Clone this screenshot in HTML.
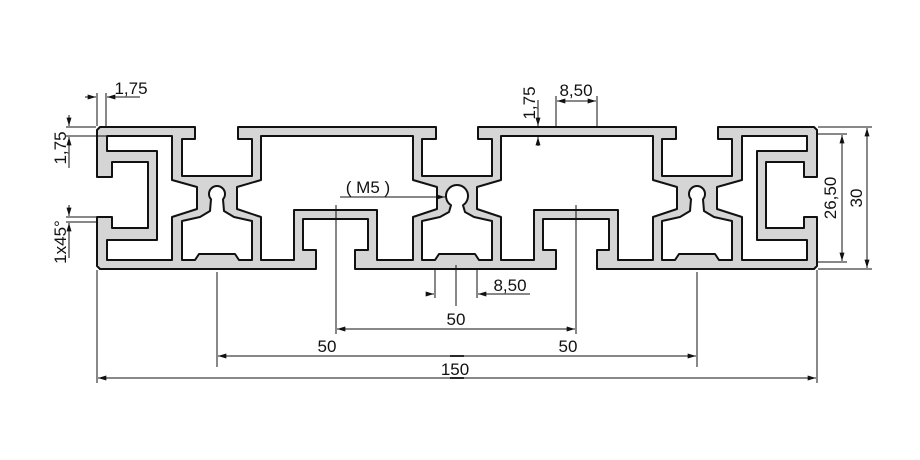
<!DOCTYPE html>
<html><head><meta charset="utf-8"><style>
html,body{margin:0;padding:0;background:#fff;}
svg{display:block;}
text{font-family:"Liberation Sans Narrow","Liberation Sans",sans-serif;font-size:17px;fill:#111;}
</style></head><body>
<svg width="920" height="460" viewBox="0 0 920 460" xmlns="http://www.w3.org/2000/svg">
<defs>
<marker id="a" viewBox="0 0 10 6" refX="10" refY="3" markerWidth="9" markerHeight="5" orient="auto-start-reverse" markerUnits="userSpaceOnUse">
<path d="M0,0 L10,3 L0,6 z" fill="#111"/></marker>
</defs>
<path fill="#d5d5d5" stroke="#111" stroke-width="2" stroke-linejoin="round" fill-rule="evenodd" d="
M100,127 L195,127 L195,139 L182,139 L182,176 L252,176 L252,139 L238,139 L238,127
L436,127 L436,139 L422,139 L422,176 L492,176 L492,139 L478,139 L478,127
L676,127 L676,139 L662,139 L662,176 L732,176 L732,139 L718,139 L718,127
L814,127 L817,130 L817,177 L804,177 L804,162 L766,162 L766,228 L804,228 L804,217 L817,217 L817,266 L814,269
L597,269 L597,250 L609,250 L609,219 L543,219 L543,250 L556,250 L556,269
L355,269 L355,250 L368,250 L368,219 L303,219 L303,250 L316,250 L316,269
L100,269 L97,266 L97,217 L112,217 L112,228 L148,228 L148,162 L112,162 L112,177 L97,177 L97,130 Z
M107,136 L172,136 L172,180 L197,187 L197,209 L172,217 L172,260 L107,260 L107,240 L157,240 L157,151 L107,151 Z
M807,136 L742,136 L742,180 L717,187 L717,209 L742,217 L742,260 L807,260 L807,240 L757,240 L757,151 L807,151 Z
M261,136 L413,136 L413,180 L437,187 L437,209 L413,217 L413,260 L377,260 L377,210 L294,210 L294,260 L261,260 L261,217 L237,209 L237,187 L261,180 Z
M653,136 L501,136 L501,180 L477,187 L477,209 L501,217 L501,260 L534,260 L534,210 L618,210 L618,260 L653,260 L653,217 L677,209 L677,187 L653,180 Z
M182,221 L200,217 L210,211 L211,199.3 A8,8 0 1 1 223,199.3 L224,211 L234,217 L252,221 L252,260 L239,260 L235,254 L199,254 L195,260 L182,260 Z
M662,221 L680,217 L690,211 L691,199.3 A8,8 0 1 1 703,199.3 L704,211 L714,217 L732,221 L732,260 L719,260 L715,254 L679,254 L675,260 L662,260 Z
M422,221 L440,217 L449,212 L451,205.2 A11,11 0 1 1 463,205.2 L465,212 L474,217 L492,221 L492,260 L479,260 L475,254 L439,254 L435,260 L422,260 Z
"/>
<g stroke="#111" stroke-width="1" fill="none">
<line x1="97" y1="270" x2="97" y2="383"/><line x1="817" y1="270" x2="817" y2="383"/>
<line x1="98" y1="378" x2="816" y2="378" marker-start="url(#a)" marker-end="url(#a)"/>
<line x1="217" y1="272" x2="217" y2="367"/><line x1="697" y1="272" x2="697" y2="367"/>
<line x1="218" y1="356" x2="696" y2="356" marker-start="url(#a)" marker-end="url(#a)"/>
<line x1="450" y1="356" x2="464" y2="356" stroke-width="1.8"/>
<line x1="450" y1="378" x2="464" y2="378" stroke-width="1.8"/>
<line x1="336" y1="205" x2="336" y2="334"/><line x1="576" y1="205" x2="576" y2="334"/>
<line x1="337" y1="329" x2="575" y2="329" marker-start="url(#a)" marker-end="url(#a)"/>
<line x1="435" y1="270" x2="435" y2="298"/><line x1="477" y1="270" x2="477" y2="298"/>
<line x1="456" y1="265" x2="456" y2="306"/>
<line x1="428" y1="294" x2="434" y2="294" marker-end="url(#a)"/>
<line x1="530" y1="294" x2="478" y2="294" marker-end="url(#a)"/>
<line x1="556" y1="126" x2="556" y2="96"/><line x1="597" y1="126" x2="597" y2="96"/>
<line x1="557" y1="101" x2="596" y2="101" marker-start="url(#a)" marker-end="url(#a)"/>
<line x1="538" y1="100" x2="538" y2="126" marker-end="url(#a)"/>
<line x1="538" y1="146" x2="538" y2="137" marker-end="url(#a)"/>
<line x1="818" y1="127" x2="872" y2="127"/><line x1="818" y1="269" x2="872" y2="269"/>
<line x1="867" y1="128" x2="867" y2="268" marker-start="url(#a)" marker-end="url(#a)"/>
<line x1="818" y1="134" x2="847" y2="134"/><line x1="818" y1="262" x2="847" y2="262"/>
<line x1="842" y1="135" x2="842" y2="261" marker-start="url(#a)" marker-end="url(#a)"/>
<line x1="97" y1="126" x2="97" y2="93"/><line x1="106" y1="126" x2="106" y2="93"/>
<line x1="85" y1="97" x2="96" y2="97" marker-end="url(#a)"/>
<line x1="140" y1="97" x2="107" y2="97" marker-end="url(#a)"/>
<line x1="66" y1="127" x2="96" y2="127"/><line x1="66" y1="136" x2="106" y2="136"/>
<line x1="69" y1="115" x2="69" y2="126" marker-end="url(#a)"/>
<line x1="69" y1="168" x2="69" y2="137" marker-end="url(#a)"/>
<line x1="66" y1="217" x2="97" y2="217"/><line x1="66" y1="222" x2="97" y2="222"/>
<line x1="69" y1="205" x2="69" y2="216" marker-end="url(#a)"/>
<line x1="69" y1="258" x2="69" y2="223" marker-end="url(#a)"/>
<line x1="340" y1="197" x2="445" y2="197" marker-end="url(#a)"/>
</g>
<text x="455" y="375" text-anchor="middle">150</text>
<text x="327" y="352" text-anchor="middle">50</text>
<text x="568" y="352" text-anchor="middle">50</text>
<text x="456" y="325" text-anchor="middle">50</text>
<text x="510" y="291" text-anchor="middle">8,50</text>
<text x="576" y="96" text-anchor="middle">8,50</text>
<text x="131" y="94" text-anchor="middle">1,75</text>
<text x="368" y="193" text-anchor="middle">( M5 )</text>
<text transform="translate(535,103) rotate(-90)" text-anchor="middle">1,75</text>
<text transform="translate(66,148) rotate(-90)" text-anchor="middle">1,75</text>
<text transform="translate(66,242) rotate(-90)" text-anchor="middle">1x45°</text>
<text transform="translate(836,198) rotate(-90)" text-anchor="middle">26,50</text>
<text transform="translate(862,198) rotate(-90)" text-anchor="middle">30</text>
</svg>
</body></html>
